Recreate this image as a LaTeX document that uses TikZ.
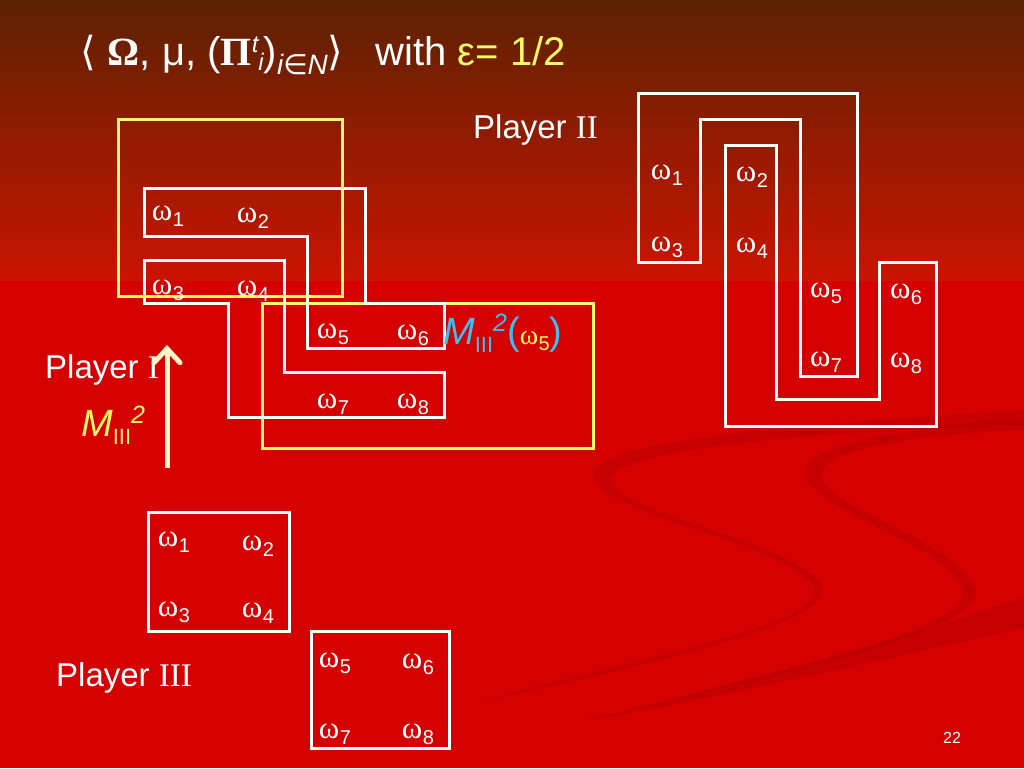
\documentclass[tikz,border=0pt]{standalone}
\usepackage{fontspec}
\setmainfont{Liberation Sans}
\newfontfamily\tms{Liberation Serif}
\newfontfamily\dvs{DejaVu Sans}
\usetikzlibrary{arrows.meta}
\definecolor{bgtop}{RGB}{92,34,2}
\definecolor{bgmid}{RGB}{202,20,0}
\definecolor{bgred}{RGB}{213,0,0}
\definecolor{swoosh}{RGB}{185,0,0}
\definecolor{ylw}{RGB}{255,250,100}
\definecolor{cream}{RGB}{255,246,200}
\definecolor{cyanc}{RGB}{60,190,240}
\newcommand\om[1]{{\tms ω}\kern0.5pt\raisebox{-6pt}{\fontsize{20}{20}\selectfont #1}}
\newcommand\mthree{{\itshape M}\raisebox{-8pt}{\fontsize{22}{22}\selectfont III}\raisebox{13pt}{\fontsize{25}{25}\selectfont\itshape 2}}
\begin{document}
\begin{tikzpicture}[x=1pt,y=-1pt,
  wline/.style={draw=white,line width=3pt},
  yline/.style={draw=ylw,line width=3pt},
  lbl/.style={text=white,font=\fontsize{31}{32}\selectfont,inner sep=0pt},
  player/.style={text=white,font=\fontsize{33}{38}\selectfont,anchor=west,inner sep=0pt},
  swo/.style={fill=swoosh,draw=none,opacity=0.5}
]
\useasboundingbox (0,0) rectangle (1024,768);
% background
\fill[bgred] (0,0) rectangle (1024,768);
\shade[top color=bgtop,bottom color=bgmid] (0,0) rectangle (1024,280);
% decorative swooshes
\fill[swo] (1024,410) .. controls (800,425) and (590,440) .. (594,476)
  .. controls (598,515) and (780,540) .. (812,585)
  .. controls (840,625) and (620,660) .. (470,705)
  .. controls (640,665) and (830,625) .. (822,588)
  .. controls (810,545) and (615,515) .. (612,480)
  .. controls (610,450) and (800,432) .. (1024,425) -- cycle;
\fill[swo] (1024,418) .. controls (900,428) and (800,445) .. (805,475)
  .. controls (810,510) and (950,545) .. (962,590)
  .. controls (972,630) and (780,670) .. (620,712)
  .. controls (790,672) and (985,630) .. (975,590)
  .. controls (965,545) and (830,510) .. (822,478)
  .. controls (815,450) and (910,435) .. (1024,430) -- cycle;
\fill[swo] (1024,597) .. controls (900,640) and (750,680) .. (580,722)
  .. controls (760,690) and (920,650) .. (1024,628) -- cycle;
% title
\node[anchor=west,text=white,font=\fontsize{40}{44}\selectfont,inner sep=0pt] (title) at (80,55)
 {{\dvs ⟨}\kern12pt{\tms\bfseries Ω}, μ, ({\tms\bfseries Π}\raisebox{13pt}{\fontsize{24}{24}\selectfont\itshape t}\raisebox{-5pt}{\fontsize{24}{24}\selectfont\itshape i})\raisebox{-9pt}{\fontsize{28}{28}\selectfont\itshape i{\dvs\upshape∈}N}{\dvs ⟩}\hspace{32pt}with \textcolor{ylw}{ε= 1/2}};
% yellow box 2 (below white shapes)
\draw[yline] (262,303) rectangle (593,448);
% white shapes, player I / II
\draw[wline] (144,188) -- (365,188) -- (365,303) -- (444,303) -- (444,348) -- (307,348) -- (307,236) -- (144,236) -- cycle;
\draw[wline] (144,260) -- (284,260) -- (284,372) -- (444,372) -- (444,417) -- (228,417) -- (228,303) -- (144,303) -- cycle;
% yellow box 1
\draw[yline] (118,119) rectangle (342,296);
% labels left group
\node[lbl] (a1) at (168,216) {\om1};
\node[lbl] (a2) at (253,218) {\om2};
\node[lbl] (a3) at (168,290) {\om3};
\node[lbl] (a4) at (253,291) {\om4};
\node[lbl] (a5) at (333,334) {\om5};
\node[lbl] (a6) at (413,335) {\om6};
\node[lbl] (a7) at (333,404) {\om7};
\node[lbl] (a8) at (413,404) {\om8};
% right S shapes
\draw[wline] (638,93) -- (857,93) -- (857,376) -- (800,376) -- (800,119) -- (700,119) -- (700,262) -- (638,262) -- cycle;
\draw[wline] (725,145) -- (776,145) -- (776,399) -- (879,399) -- (879,262) -- (936,262) -- (936,426) -- (725,426) -- cycle;
\node[lbl] (b1) at (667,175) {\om1};
\node[lbl] (b2) at (752,177) {\om2};
\node[lbl] (b3) at (667,247) {\om3};
\node[lbl] (b4) at (752,248) {\om4};
\node[lbl] (b5) at (826,293) {\om5};
\node[lbl] (b6) at (906,294) {\om6};
\node[lbl] (b7) at (826,362) {\om7};
\node[lbl] (b8) at (906,363) {\om8};
% bottom boxes (player III)
\draw[wline] (148,512) rectangle (289,631);
\draw[wline] (311,631) rectangle (449,748);
\node[lbl] (c1) at (174,542) {\om1};
\node[lbl] (c2) at (258,546) {\om2};
\node[lbl] (c3) at (174,612) {\om3};
\node[lbl] (c4) at (258,613) {\om4};
\node[lbl] (c5) at (335,663) {\om5};
\node[lbl] (c6) at (418,664) {\om6};
\node[lbl] (c7) at (335,734) {\om7};
\node[lbl] (c8) at (418,734) {\om8};
% players
\node[player] (p2) at (473,130) {Player {\tms II}};
\node[player] (p1) at (45,370) {Player {\tms I}};
\node[player] (p3) at (56,678) {Player {\tms III}};
% M labels
\node[anchor=west,text=ylw,font=\fontsize{38}{40}\selectfont,inner sep=0pt] (m3) at (81,425) {\mthree};
\node[anchor=west,text=cyanc,font=\fontsize{38}{40}\selectfont,inner sep=0pt] (m35) at (443,333) {\mthree(\textcolor{ylw}{\fontsize{28}{30}\selectfont\om5})};
% arrow
\coordinate (arB) at (167,468);
\coordinate (arT) at (167,345);
\draw[draw=cream,line width=5pt,-{Straight Barb[length=14pt,width=26pt,line cap=round]}] (arB) -- (arT);
% page number
\node[text=white,font=\fontsize{16}{16}\selectfont,inner sep=0pt] (pg) at (952,738) {22};
\end{tikzpicture}
\end{document}
